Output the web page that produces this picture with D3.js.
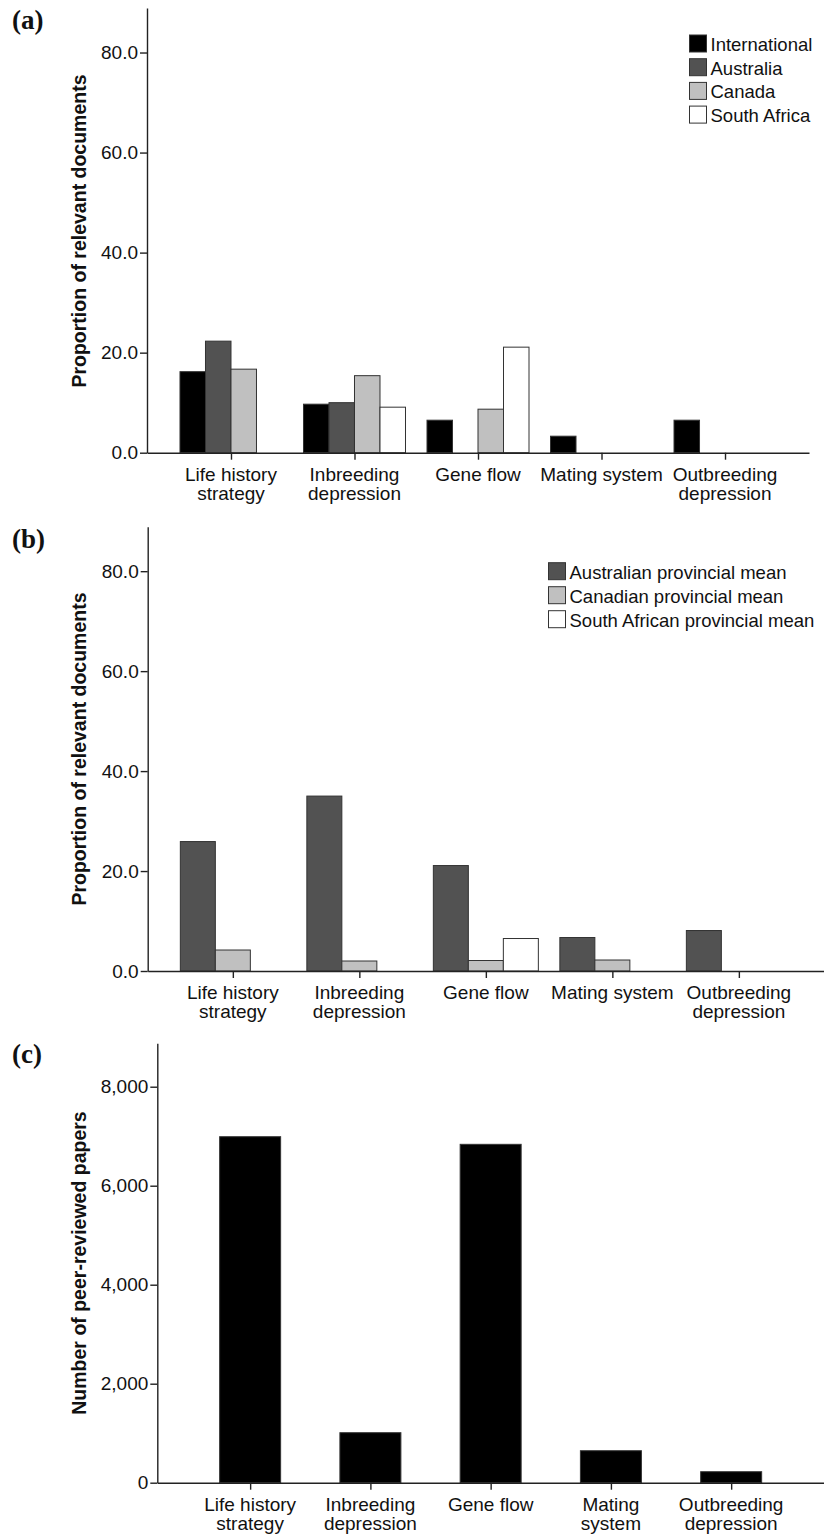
<!DOCTYPE html>
<html>
<head>
<meta charset="utf-8">
<title>Genetic concepts in policy documents</title>
<script src="https://d3js.org/d3.v7.min.js"></script>
<style>
  body { margin: 0; background: #fff; }
  svg text { font-family: "Liberation Sans", Arial, sans-serif; fill: #111; }
</style>
</head>
<body>
<svg id="chart"></svg>
<script>
// categories shared by the three panels
let categories = ["Life history strategy", "Inbreeding depression", "Gene flow", "Mating system", "Outbreeding depression"];
let tickLinesAB = [["Life history", "strategy"], ["Inbreeding", "depression"], ["Gene flow"], ["Mating system"], ["Outbreeding", "depression"]];
let tickLinesC = [["Life history", "strategy"], ["Inbreeding", "depression"], ["Gene flow"], ["Mating", "system"], ["Outbreeding", "depression"]];

// (a) national level, % of relevant documents
let seriesNamesA = ["International", "Australia", "Canada", "South Africa"];
let international = [16.2, 9.7, 6.5, 3.3, 6.5];
let australia = [22.3, 10.0, 0, 0, 0];
let canada = [16.7, 15.4, 8.7, 0, 0];
let southAfrica = [0, 9.1, 21.1, 0, 0];

// (b) provincial means, % of relevant documents
let seriesNamesB = ["Australian provincial mean", "Canadian provincial mean", "South African provincial mean"];
let ausProvincial = [25.9, 35.0, 21.1, 6.7, 8.1];
let canProvincial = [4.2, 2.0, 2.1, 2.2, 0];
let saProvincial = [0, 0, 6.5, 0, 0];

// (c) number of peer-reviewed papers
let papers = [6990, 1010, 6836, 646, 222];

let ticksAB = [0, 20, 40, 60, 80];
let ticksC = [0, 2000, 4000, 6000, 8000];

let W = 824, H = 1538;
let svg = d3.select("#chart").attr("width", W).attr("height", H);

function drawPanel(p) {
    let g = svg.append("g");
    let xScale = d3.scalePoint().domain(categories).range([p.left, p.right]).padding(p.padding);
    let yScale = d3.scaleLinear().domain([0, p.ymax]).range([p.base, p.top]);
    let inner = d3.scaleBand().domain(d3.range(p.series.length)).range([-p.groupWidth / 2, p.groupWidth / 2]);

    // bars
    p.series.forEach(function (s, i) {
        let rows = categories.map((c, j) => ({ cat: c, v: s.values[j] })).filter(d => d.v > 0);
        g.append("g").selectAll("rect")
            .data(rows)
            .enter().append("rect")
            .attr("x", d => xScale(d.cat) + inner(i))
            .attr("width", inner.bandwidth())
            .attr("y", d => yScale(d.v))
            .attr("height", d => p.base - yScale(d.v))
            .attr("fill", s.color)
            .attr("stroke", "#333")
            .attr("stroke-width", 1);
    });

    // y axis
    let yAxis = g.append("g")
        .attr("transform", "translate(" + p.left + ",0)")
        .call(d3.axisLeft(yScale).tickValues(p.ticks).tickFormat(p.fmt).tickSize(7).tickSizeOuter(0).tickPadding(2));
    // x axis
    let xAxis = g.append("g")
        .attr("transform", "translate(0," + p.base + ")")
        .call(d3.axisBottom(xScale).tickFormat("").tickSize(7).tickSizeOuter(0));
    [yAxis, xAxis].forEach(function (a) {
        a.selectAll("path, line").attr("stroke", "#222").attr("stroke-width", 1.4);
        a.selectAll("text").style("font-size", "19px").attr("fill", "#111");
    });

    // category labels, one or two lines
    let labels = g.append("g").selectAll("text")
        .data(categories)
        .enter().append("text")
        .attr("x", d => xScale(d))
        .attr("y", p.base + 28)
        .attr("text-anchor", "middle")
        .style("font-size", "19px");
    labels.each(function (d, j) {
        let t = d3.select(this);
        p.tickLines[j].forEach(function (line, k) {
            t.append("tspan").attr("x", xScale(d)).attr("dy", k === 0 ? 0 : 19).text(line);
        });
    });

    // y title
    g.append("text")
        .attr("transform", "translate(86," + p.titleY + ") rotate(-90)")
        .attr("text-anchor", "middle")
        .style("font-size", "19.5px")
        .style("font-weight", "bold")
        .text(p.title);

    // panel letter
    g.append("text")
        .attr("x", 12).attr("y", p.letterY)
        .style("font-family", "'Liberation Serif', 'Times New Roman', serif")
        .style("font-weight", "bold")
        .style("font-size", "27px")
        .text(p.letter);

    // legend
    if (p.legend) {
        let lg = g.append("g").attr("transform", "translate(" + p.legend.x + "," + p.legend.y + ")");
        let item = lg.selectAll("g")
            .data(p.series)
            .enter().append("g")
            .attr("transform", (d, i) => "translate(0," + i * p.legend.step + ")");
        item.append("rect")
            .attr("width", 17).attr("height", 17)
            .attr("fill", d => d.color)
            .attr("stroke", "#333").attr("stroke-width", 1);
        item.append("text")
            .attr("x", 21).attr("y", 16)
            .style("font-size", "18.5px")
            .text(d => d.name);
    }
}

let greys = ["#000000", "#525252", "#c0c0c0", "#ffffff"];

drawPanel({
    letter: "(a)", letterY: 29,
    left: 147, right: 809, padding: 0.68,
    top: 8, base: 452.7, ymax: 88.9,
    ticks: ticksAB, fmt: d3.format(".1f"),
    groupWidth: 102,
    series: [international, australia, canada, southAfrica].map((v, i) => ({ name: seriesNamesA[i], values: v, color: greys[i] })),
    tickLines: tickLinesAB,
    title: "Proportion of relevant documents", titleY: 231,
    legend: { x: 689.5, y: 35, step: 23.7 }
});

drawPanel({
    letter: "(b)", letterY: 548,
    left: 147.7, right: 824, padding: 0.673,
    top: 526.7, base: 971, ymax: 88.9,
    ticks: ticksAB, fmt: d3.format(".1f"),
    groupWidth: 105,
    series: [ausProvincial, canProvincial, saProvincial].map((v, i) => ({ name: seriesNamesB[i], values: v, color: greys[i + 1] })),
    tickLines: tickLinesAB,
    title: "Proportion of relevant documents", titleY: 749,
    legend: { x: 548.5, y: 562.7, step: 24 }
});

drawPanel({
    letter: "(c)", letterY: 1063,
    left: 157.3, right: 824, padding: 0.772,
    top: 1043.3, base: 1482.7, ymax: 8877,
    ticks: ticksC, fmt: d3.format(","),
    groupWidth: 61,
    series: [{ name: "Papers", values: papers, color: "#000000" }],
    tickLines: tickLinesC,
    title: "Number of peer-reviewed papers", titleY: 1263,
    legend: null
});
</script>
</body>
</html>
